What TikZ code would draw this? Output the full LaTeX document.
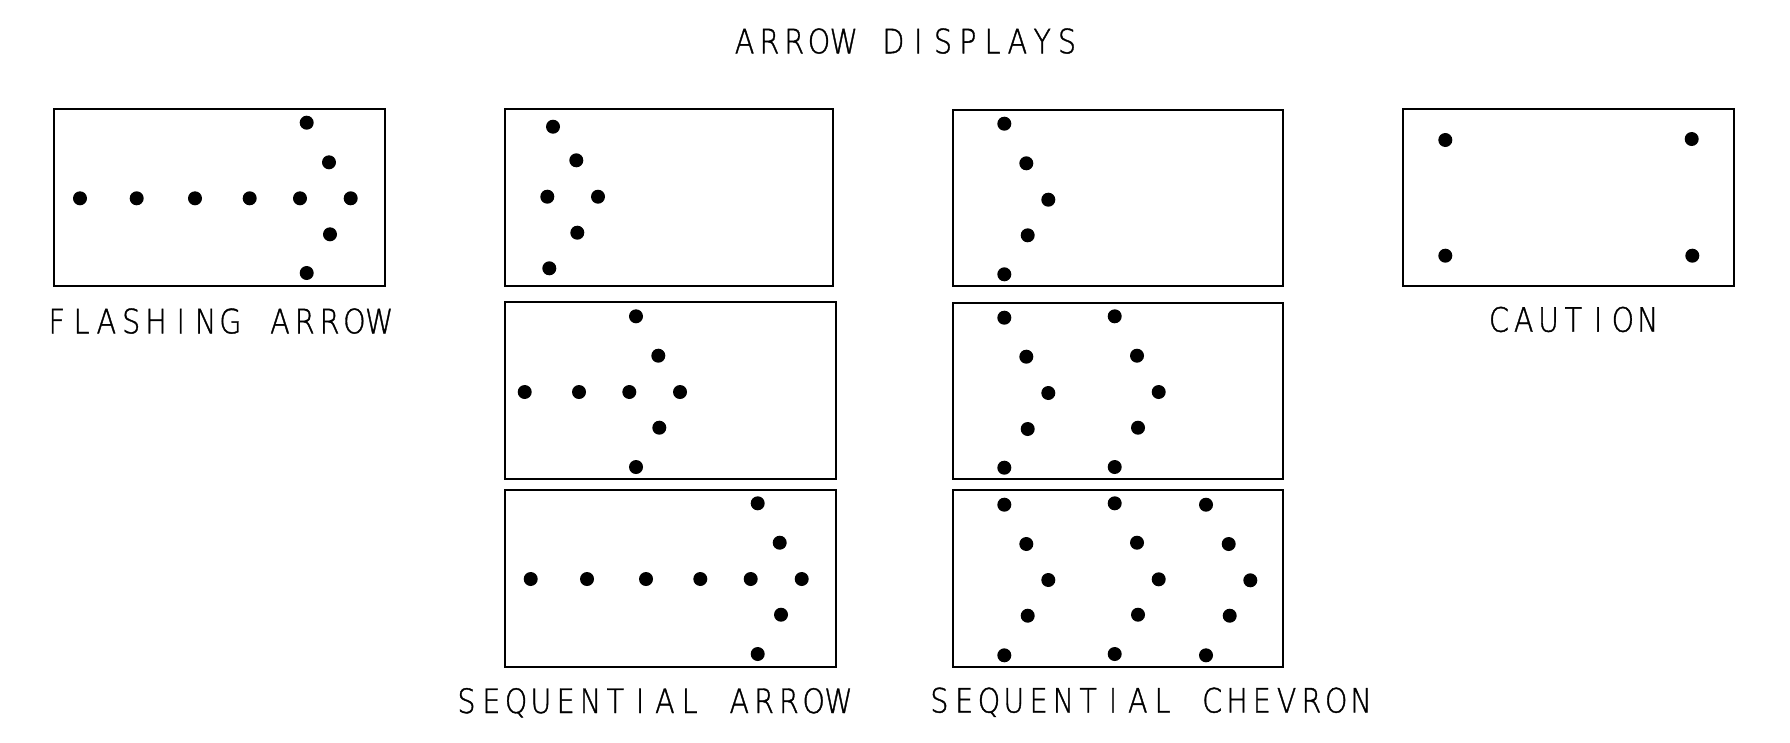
\documentclass[tikz,border=0pt]{standalone}
\usepackage{fontspec}
\usepackage{graphicx}
\usetikzlibrary{fit}
\newfontfamily\cadfont[FakeBold=1.2]{DejaVu Sans ExtraLight}
\newlength\cadpitch
\setlength\cadpitch{24.8pt}
\makeatletter
\newcommand\cadtext[1]{\@tfor\cadch:=#1\do{\makebox[\cadpitch][c]{\scalebox{0.85}[1]{\cadch}}}}
\makeatother
\tikzset{
  panel/.style={draw=black, line width=2pt, inner sep=0pt},
  dot/.style={circle, fill=black, inner sep=0pt, minimum size=14pt},
  lbl/.style={anchor=base, inner sep=0pt, font=\cadfont\fontsize{33.6}{40}\selectfont}
}
\begin{document}
\begin{tikzpicture}[x=1pt,y=-1pt]
\useasboundingbox (0,0) rectangle (1790,742);
% title
\node[lbl] (title) at (905.8,53.3) {\cadtext{ARROW~DISPLAYS}};
% panels
\node[panel, fit={(54.3,109) (385.3,286.3)}] (fa) {};
\node[panel, fit={(505,109.3) (832.7,286.3)}] (sa1) {};
\node[panel, fit={(505,302.3) (836,479)}] (sa2) {};
\node[panel, fit={(505,489.7) (836,666.7)}] (sa3) {};
\node[panel, fit={(953.3,109.7) (1282.7,285.7)}] (sc1) {};
\node[panel, fit={(953.3,302.7) (1282.7,479)}] (sc2) {};
\node[panel, fit={(953.3,490) (1282.7,666.7)}] (sc3) {};
\node[panel, fit={(1403,109.3) (1734,286)}] (ca) {};
% labels
\node[lbl] (falbl) at (218,333.3) {\cadtext{FLASHING~ARROW}};
\node[lbl] (salbl) at (652.5,713) {\cadtext{SEQUENTIAL~ARROW}};
\node[lbl] (sclbl) at (1150.2,712.5) {\cadtext{SEQUENTIAL~CHEVRON}};
\node[lbl] (calbl) at (1573.3,331.7) {\cadtext{CAUTION}};
% flashing arrow dots
\foreach \x/\y [count=\i] in {80/198.3,136.7/198.3,195/198.3,249.7/198.3,300/198.3,350.7/198.3,306.7/122.7,329/162.3,330/234.3,306.7/273}
  \node[dot] (fa-\i) at (\x,\y) {};
% sequential arrow dots
\foreach \x/\y [count=\i] in {553/126.7,576.3/160.3,547.3/196.7,598/196.7,577.3/232.7,549.3/268.3}
  \node[dot] (saa-\i) at (\x,\y) {};
\foreach \x/\y [count=\i] in {636/316.3,658.3/355.7,524.7/392,579/392,629.3/392,680/392,659.3/427.7,636/467}
  \node[dot] (sab-\i) at (\x,\y) {};
\foreach \x/\y [count=\i] in {757.7/503.3,779.7/542.7,530.7/579,587/579,646/579,700.3/579,750.7/579,801.7/579,781/614.7,757.7/654}
  \node[dot] (sac-\i) at (\x,\y) {};
% sequential chevron dots
\foreach \x/\y [count=\i] in {1004.3/123.7,1026.3/163.3,1048.3/199.7,1027.7/235.3,1004.3/274.3}
  \node[dot] (sca-\i) at (\x,\y) {};
\foreach \x/\y [count=\i] in {1004.3/317.7,1026.3/356.7,1048.3/393,1027.7/429,1004.3/467.7,1114.7/316.3,1137/355.7,1158.7/392,1138/427.7,1114.7/467}
  \node[dot] (scb-\i) at (\x,\y) {};
\foreach \x/\y [count=\i] in {1004.3/504.7,1026.3/544,1048.3/580,1027.7/615.7,1004.3/655.3,1114.7/503.3,1137/542.7,1158.7/579.3,1138/614.7,1114.7/654,1206/504.7,1228.7/544,1250.3/580.3,1229.7/615.7,1206/655.3}
  \node[dot] (scc-\i) at (\x,\y) {};
% caution dots
\foreach \x/\y [count=\i] in {1445.3/140,1691.7/139,1445.3/255.7,1692.3/255.7}
  \node[dot] (ca-\i) at (\x,\y) {};
\end{tikzpicture}
\end{document}
